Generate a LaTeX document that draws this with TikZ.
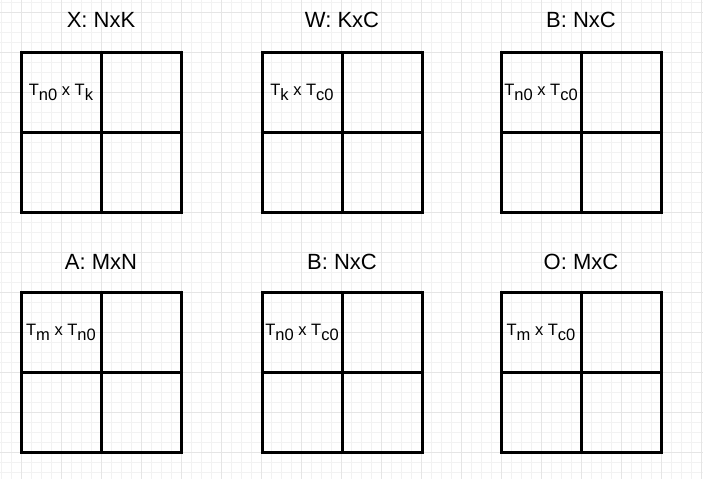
\documentclass[tikz,border=0pt]{standalone}
\usepackage{fontspec}
\setmainfont{Liberation Sans}
\usepackage{tikz}
\usetikzlibrary{positioning}

% lowered, full-size index as in the tile labels
\newcommand{\tsub}[1]{\raisebox{-5pt}{#1}}

\begin{document}
\begin{tikzpicture}[
    x=1pt, y=-1pt,
    cell/.style={draw, line width=3pt, minimum size=80pt, inner sep=0pt, outer sep=0pt, align=center, font=\fontsize{16.5pt}{18pt}\selectfont},
    title/.style={font=\fontsize{22pt}{25pt}\selectfont},
    minorgrid/.style={draw=black!5, line width=0.8pt},
    majorgrid/.style={draw=black!10, line width=0.8pt}
]
\useasboundingbox (0,0) rectangle (703,479);
\fill[white] (0,0) rectangle (703,479);

% background grid
\foreach \gx in {1,11,...,701} \draw[minorgrid] (\gx,0) -- (\gx,479);
\foreach \gy in {2,12,...,472} \draw[minorgrid] (0,\gy) -- (703,\gy);
\foreach \gx in {21,61,...,701} \draw[majorgrid] (\gx,0) -- (\gx,479);
\foreach \gy in {12,52,...,452} \draw[majorgrid] (0,\gy) -- (703,\gy);

% top row
\node[title] (xtitle) at (101,20) {X: NxK};
\node[cell] (xa) at (61,92) {T\tsub{n0} x T\tsub{k}};
\node[cell, right=0pt of xa] (xb) {};
\node[cell, below=0pt of xa] (xc) {};
\node[cell, right=0pt of xc] (xd) {};

\node[title] (wtitle) at (342,20) {W: KxC};
\node[cell] (wa) at (302,92) {T\tsub{k} x T\tsub{c0}};
\node[cell, right=0pt of wa] (wb) {};
\node[cell, below=0pt of wa] (wc) {};
\node[cell, right=0pt of wc] (wd) {};

\node[title] (btitle) at (581,20) {B: NxC};
\node[cell] (ba) at (541,92) {T\tsub{n0} x T\tsub{c0}};
\node[cell, right=0pt of ba] (bb) {};
\node[cell, below=0pt of ba] (bc) {};
\node[cell, right=0pt of bc] (bd) {};

% bottom row
\node[title] (atitle) at (101,262) {A: MxN};
\node[cell] (aa) at (61,332) {T\tsub{m} x T\tsub{n0}};
\node[cell, right=0pt of aa] (ab) {};
\node[cell, below=0pt of aa] (ac) {};
\node[cell, right=0pt of ac] (ad) {};

\node[title] (b2title) at (342,262) {B: NxC};
\node[cell] (b2a) at (302,332) {T\tsub{n0} x T\tsub{c0}};
\node[cell, right=0pt of b2a] (b2b) {};
\node[cell, below=0pt of b2a] (b2c) {};
\node[cell, right=0pt of b2c] (b2d) {};

\node[title] (otitle) at (581,262) {O: MxC};
\node[cell] (oa) at (541,332) {T\tsub{m} x T\tsub{c0}};
\node[cell, right=0pt of oa] (ob) {};
\node[cell, below=0pt of oa] (oc) {};
\node[cell, right=0pt of oc] (od) {};
\end{tikzpicture}
\end{document}
